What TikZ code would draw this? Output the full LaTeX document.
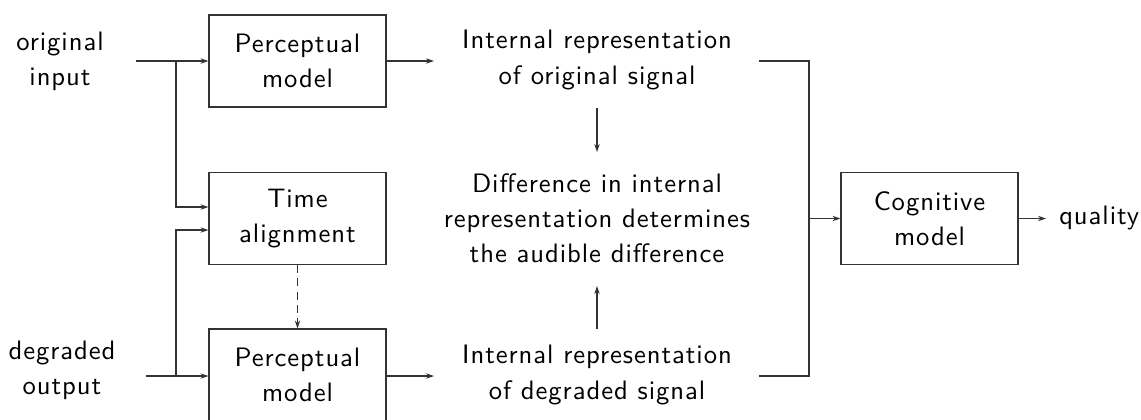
\documentclass[tikz,border=0pt]{standalone}
\usepackage{fontspec}
\usetikzlibrary{arrows.meta,calc}
\newfontface{\figface}{lmsans10-regular.otf}[LetterSpace=3.5]
\newcommand{\figfont}{\fontsize{20}{26.3}\figface}
\begin{document}
\begin{tikzpicture}[x=0.75pt,y=-0.75pt,
  every node/.style={font=\figfont, align=center, inner sep=0pt},
  blk/.style={draw=black!80, line width=0.8pt, minimum width=132.75pt, minimum height=69pt},
  lbl/.style={},
  arr/.style={draw=black!80, line width=0.8pt, -{Stealth[length=6pt,width=4pt]}},
  ln/.style={draw=black!80, line width=0.8pt}]
\useasboundingbox (0,0) rectangle (1141,419);
% boxes
\node[blk] (p1) at (297.5,61) {Perceptual\\model};
\node[blk] (ta) at (297.5,218.5) {Time\\alignment};
\node[blk] (p2) at (297.5,375) {Perceptual\\model};
\node[blk] (cog) at (929.5,218.5) {Cognitive\\model};
% labels
\node[lbl] (inO) at (60,61) {original\\input};
\node[lbl] (outD) at (62,370) {degraded\\output};
\node[lbl] (ro) at (597,60) {Internal representation\\of original signal};
\node[lbl] (rd) at (597,375) {Internal representation\\of degraded signal};
\node[lbl] (diff) at (597,218) {Difference in internal\\representation determines\\the audible difference};
\node[lbl, anchor=west] (qual) at (1059,218) {quality};
% coordinates
\coordinate (a1) at (136,61);
\coordinate (b1) at (176,61);
\coordinate (a2) at (146,376);
\coordinate (b2) at (176,376);
\coordinate (e1) at (434,61);
\coordinate (e2) at (434,376);
\coordinate (d1s) at (597,108);
\coordinate (d1e) at (597,152);
\coordinate (d2s) at (597,329);
\coordinate (d2e) at (597,286);
\coordinate (k1) at (759,61);
\coordinate (k2) at (759,376);
\coordinate (km) at (809,218.5);
\coordinate (qa) at (1046,218.5);
% connectors
\draw[arr] (a1) -- (p1.west);
\draw[arr] (b1) |- ($(ta.west)+(0,-11.5)$);
\draw[arr] (a2) -- (p2.west |- a2);
\draw[arr] (b2) |- ($(ta.west)+(0,11.5)$);
\draw[arr, dashed, dash pattern=on 6pt off 4pt] (ta.south) -- (p2.north);
\draw[arr] (p1.east) -- (e1);
\draw[arr] (p2.east |- e2) -- (e2);
\draw[arr] (d1s) -- (d1e);
\draw[arr] (d2s) -- (d2e);
\draw[ln] (k1) -| (km) |- (k2);
\draw[arr] (km) -- (cog.west);
\draw[arr] (cog.east) -- (qa);
\end{tikzpicture}
\end{document}
